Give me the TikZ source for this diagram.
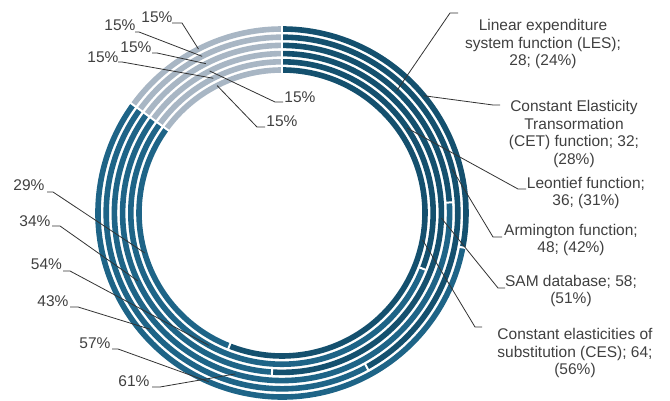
\documentclass[tikz,border=0pt]{standalone}
\usepackage{fontspec}
\setmainfont{Liberation Sans}
\usetikzlibrary{calc}
\definecolor{segA}{HTML}{14506E}
\definecolor{segB}{HTML}{1E6487}
\definecolor{segG}{HTML}{A8B6C4}
\definecolor{txt}{HTML}{404040}
\begin{document}
\begin{tikzpicture}[x=1pt,y=1pt,
  lbl/.style={font=\fontsize{15.5}{17.8}\selectfont, text=txt, inner sep=0pt, align=center},
  leader/.style={draw=black!80, line width=0.8pt},
  ringA/.style={draw=segA, line width=5.6pt},
  ringB/.style={draw=segB, line width=5.6pt},
  ringG/.style={draw=segG, line width=5.6pt},
  gapline/.style={draw=white, line width=2pt}]
\useasboundingbox[fill=white] (0,0) rectangle (670,401);
\coordinate (C) at (282,188);
% rings: outer -> inner : CET, Armington, LES, SAM, Leontief, CES
\foreach \rr/\pa in {184/28, 175.8/42, 167.6/24, 159.4/51, 151.2/31, 143/56}{
  \pgfmathsetmacro\ea{90-3.6*\pa}
  \pgfmathsetmacro\ri{\rr-3.6}
  \pgfmathsetmacro\ro{\rr+3.6}
  \draw[ringA] ($(C)+(90:\rr)$) arc[start angle=90, end angle=\ea, radius=\rr];
  \draw[ringB] ($(C)+(\ea:\rr)$) arc[start angle=\ea, end angle=-216, radius=\rr];
  \draw[ringG] ($(C)+(144:\rr)$) arc[start angle=144, end angle=90, radius=\rr];
  \draw[gapline] ($(C)+(\ea:\ri)$) -- ($(C)+(\ea:\ro)$);
}
\draw[gapline] ($(C)+(90:137)$) -- ($(C)+(90:190)$);
\draw[gapline] ($(C)+(144:137)$) -- ($(C)+(144:190)$);

% ---- right labels (first segment) ----
\node[lbl] (tLES) at (543,357) {Linear expenditure\\system function (LES);\\28; (24\%)};
\coordinate (mLES) at ($(C)+(46.8:167.6)$);
\coordinate (kLES) at (450,388); \coordinate (eLES) at (458,388);
\draw[leader] (mLES) -- (kLES) -- (eLES);

\node[lbl] (tCET) at (574,267) {Constant Elasticity\\Transormation\\(CET) function; 32;\\(28\%)};
\coordinate (mCET) at ($(C)+(39.6:184)$);
\coordinate (kCET) at (493,296); \coordinate (eCET) at (500,296);
\draw[leader] (mCET) -- (kCET) -- (eCET);

\node[lbl] (tLEO) at (586,208) {Leontief function;\\36; (31\%)};
\coordinate (mLEO) at ($(C)+(34.2:151.2)$);
\coordinate (kLEO) at (518,212); \coordinate (eLEO) at (526,212);
\draw[leader] (mLEO) -- (kLEO) -- (eLEO);

\node[lbl] (tARM) at (571,161) {Armington function;\\48; (42\%)};
\coordinate (mARM) at ($(C)+(14.4:175.8)$);
\coordinate (kARM) at (493,164); \coordinate (eARM) at (502,164);
\draw[leader] (mARM) -- (kARM) -- (eARM);

\node[lbl] (tSAM) at (571,110) {SAM database; 58;\\(51\%)};
\coordinate (mSAM) at ($(C)+(-1.8:159.4)$);
\coordinate (kSAM) at (498,113); \coordinate (eSAM) at (505,113);
\draw[leader] (mSAM) -- (kSAM) -- (eSAM);

\node[lbl] (tCES) at (575,48) {Constant elasticities of\\substitution (CES); 64;\\(56\%)};
\coordinate (mCES) at ($(C)+(-10.8:143)$);
\coordinate (kCES) at (475,74); \coordinate (eCES) at (482,74);
\draw[leader] (mCES) -- (kCES) -- (eCES);

% ---- left labels (second segment) ----
\node[lbl] (bCES) at (29,216) {29\%};
\coordinate (hCES) at (47,209); \coordinate (jCES) at (53,209);
\coordinate (nCES) at ($(C)+(-163.8:143)$);
\draw[leader] (hCES) -- (jCES) -- (nCES);

\node[lbl] (bSAM) at (35,180) {34\%};
\coordinate (hSAM) at (52,175); \coordinate (jSAM) at (60,175);
\coordinate (nSAM) at ($(C)+(-154.8:159.4)$);
\draw[leader] (hSAM) -- (jSAM) -- (nSAM);

\node[lbl] (bLEO) at (46.5,137) {54\%};
\coordinate (hLEO) at (63,130); \coordinate (jLEO) at (70,130);
\coordinate (nLEO) at ($(C)+(-118.8:151.2)$);
\draw[leader] (hLEO) -- (jLEO) -- (nLEO);

\node[lbl] (bARM) at (53,100) {43\%};
\coordinate (hARM) at (70,94); \coordinate (jARM) at (78,94);
\coordinate (nARM) at ($(C)+(-138.6:175.8)$);
\draw[leader] (hARM) -- (jARM) -- (nARM);

\node[lbl] (bCET) at (95,58) {57\%};
\coordinate (hCET) at (112,52); \coordinate (jCET) at (118,52);
\coordinate (nCET) at ($(C)+(-113.4:184)$);
\draw[leader] (hCET) -- (jCET) -- (nCET);

\node[lbl] (bLES) at (134,20) {61\%};
\coordinate (hLES) at (152,14); \coordinate (jLES) at (160,14);
\coordinate (nLES) at ($(C)+(-106.2:167.6)$);
\draw[leader] (hLES) -- (jLES) -- (nLES);

% ---- gray labels (15%) ----
\node[lbl] (gCET) at (157,384) {15\%};
\coordinate (uCET) at (172,378); \coordinate (vCET) at (182,378);
\coordinate (wCET) at ($(C)+(117:184)$);
\draw[leader] (uCET) -- (vCET) -- (wCET);

\node[lbl] (gARM) at (120,376) {15\%};
\coordinate (uARM) at (135,369); \coordinate (vARM) at (139,369);
\coordinate (wARM) at ($(C)+(117:175.8)$);
\draw[leader] (uARM) -- (vARM) -- (wARM);

\node[lbl] (gLES) at (136,354) {15\%};
\coordinate (uLES) at (152,348); \coordinate (vLES) at (157,348);
\coordinate (wLES) at ($(C)+(117:167.6)$);
\draw[leader] (uLES) -- (vLES) -- (wLES);

\node[lbl] (gLEO) at (103,344) {15\%};
\coordinate (uLEO) at (118,339); \coordinate (vLEO) at (122,339);
\coordinate (wLEO) at ($(C)+(117:151.2)$);
\draw[leader] (uLEO) -- (vLEO) -- (wLEO);

\node[lbl] (gSAM) at (300,304) {15\%};
\coordinate (uSAM) at (283,299); \coordinate (vSAM) at (275,299);
\coordinate (wSAM) at ($(C)+(117:159.4)$);
\draw[leader] (uSAM) -- (vSAM) -- (wSAM);

\node[lbl] (gCES) at (282,280) {15\%};
\coordinate (uCES) at (265,274); \coordinate (vCES) at (257,274);
\coordinate (wCES) at ($(C)+(117:143)$);
\draw[leader] (uCES) -- (vCES) -- (wCES);
\end{tikzpicture}
\end{document}
